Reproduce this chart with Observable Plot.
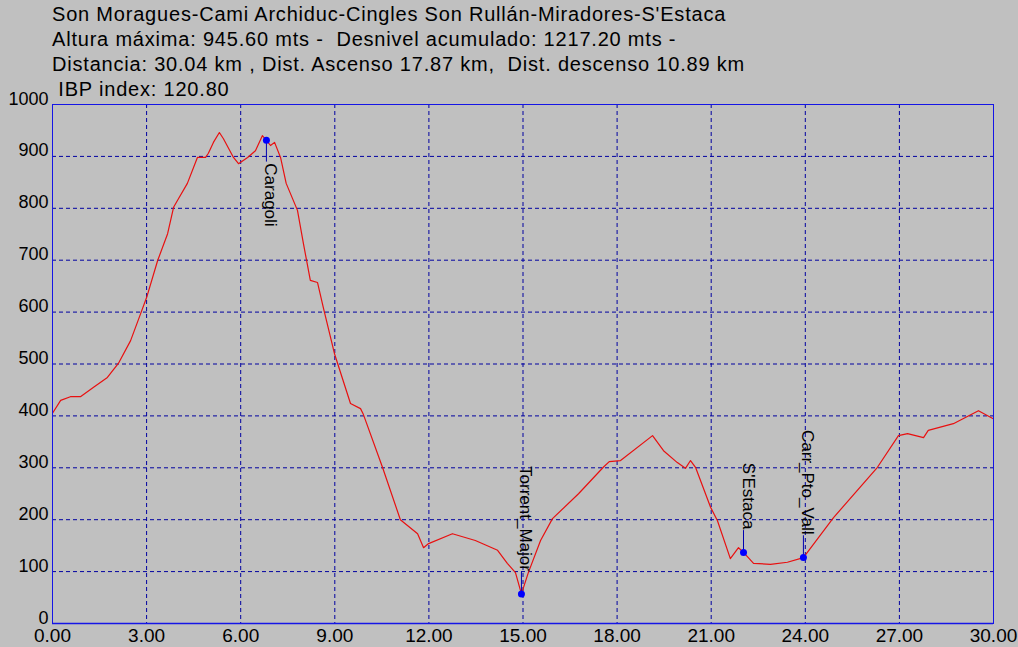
<!DOCTYPE html>
<html><head><meta charset="utf-8">
<script src="https://cdn.jsdelivr.net/npm/d3@7"></script>
<script src="https://cdn.jsdelivr.net/npm/@observablehq/plot@0.6"></script>
<style>
html,body{margin:0;padding:0;background:#c0c0c0;}
#wrap{position:relative;width:1018px;height:647px;overflow:hidden;background:#c0c0c0;}
#title{position:absolute;left:52px;top:2px;font-family:"Liberation Sans",Arial,sans-serif;font-size:20px;line-height:25px;color:#000;letter-spacing:0.8px;}
#title div{white-space:pre;}
</style></head><body>
<div id="wrap"><div id="chart"></div>
<div id="title">
<div>Son Moragues-Cami Archiduc-Cingles Son Rullán-Miradores-S'Estaca</div>
<div>Altura máxima: 945.60 mts -  Desnivel acumulado: 1217.20 mts -</div>
<div>Distancia: 30.04 km , Dist. Ascenso 17.87 km,  Dist. descenso 10.89 km</div>
<div> IBP index: 120.80</div>
</div></div>
<script>
const km = [0,0.26,0.57,0.89,1.31,1.75,2.10,2.49,2.81,3.00,3.35,3.67,3.86,4.02,4.30,4.62,4.88,4.97,5.13,5.32,5.45,5.77,5.93,6.22,6.47,6.69,6.82,6.95,7.08,7.27,7.45,7.81,8.00,8.22,8.45,8.64,8.99,9.09,9.50,9.82,9.91,10.52,11.09,11.64,11.83,11.99,12.75,13.48,14.19,14.50,14.76,14.95,15.17,15.56,15.94,16.77,17.56,17.75,18.11,19.13,19.48,19.92,20.18,20.34,20.50,20.98,21.20,21.61,21.87,22.03,22.35,22.89,23.43,23.94,24.90,26.30,26.97,27.26,27.77,27.92,28.72,29.52,30.04];
const elev = [405,430,437,437,455,474,501,545,597,628,699,751,802,819,848,898,898,906,927,946,934,898,886,898,911,940,931,921,927,898,848,796,732,661,657,607,520,501,424,414,403,301,200,173,146,154,173,160,141,116,98,57,98,160,202,250,301,312,314,362,333,310,299,314,301,224,198,125,146,137,116,114,118,127,204,301,362,366,358,372,385,410,393];
const wpName = ["Caragoli","Torrent_Major","S'Estaca","Carr_Pto_Vall"];
const wpKm = [6.82,14.95,22.03,23.94];
const wpElev = [931,57,137,127];
const xTicks = [0,3,6,9,12,15,18,21,24,27,30];
const yTicks = [0,100,200,300,400,500,600,700,800,900,1000];

const profile = km.map((k,i) => ({km:k, elev:elev[i]}));
const wps = wpName.map((n,i) => ({name:n, km:wpKm[i], elev:wpElev[i]}));
const high = wps.filter(d => d.elev > 700);
const low = wps.filter(d => d.elev <= 700);
const stem = 42;
const grid = {stroke:"#0000a0", strokeDasharray:"4,3", strokeWidth:1};

const chart = Plot.plot({
  width:1018, height:647,
  marginLeft:52, marginRight:25, marginTop:104, marginBottom:24,
  style:{background:"#c0c0c0", fontFamily:"'Liberation Sans', Arial, sans-serif", color:"#000", overflow:"visible"},
  x:{domain:[0,30], label:null},
  y:{domain:[0,1000], label:null},
  marks:[
    Plot.ruleY(yTicks.filter(d => d>0 && d<1000), grid),
    Plot.ruleX(xTicks.filter(d => d>0 && d<30), grid),
    Plot.line(profile, {x:"km", y:"elev", stroke:"#e81010", strokeWidth:1.2, clip:true}),
    Plot.ruleX(high, {x:"km", y1:"elev", y2:d => d.elev - stem, stroke:"#0000b0"}),
    Plot.ruleX(low, {x:"km", y1:"elev", y2:d => d.elev + stem, stroke:"#0000b0"}),
    Plot.dot(wps, {x:"km", y:"elev", r:3.5, fill:"#0000ff", stroke:"none"}),
    Plot.text(high, {x:"km", y:"elev", text:"name", rotate:90, textAnchor:"start", lineAnchor:"bottom", dx:-1, dy:23, fontSize:17, fill:"#000"}),
    Plot.text(low, {x:"km", y:"elev", text:"name", rotate:90, textAnchor:"end", lineAnchor:"bottom", dx:-1, dy:-23, fontSize:17, fill:"#000"}),
    Plot.frame({stroke:"#1515e6", strokeWidth:1}),
    Plot.ruleY([0], {stroke:"#1515e6", strokeWidth:1.5}),
    Plot.axisY(yTicks, {tickSize:0, tickPadding:4, fontSize:18, lineAnchor:"bottom", tickFormat:d => String(d)}),
    Plot.axisX(xTicks, {tickSize:0, tickPadding:5, fontSize:19, tickFormat:d => d.toFixed(2)})
  ]
});
document.getElementById("chart").appendChild(chart);
</script>
</body></html>
